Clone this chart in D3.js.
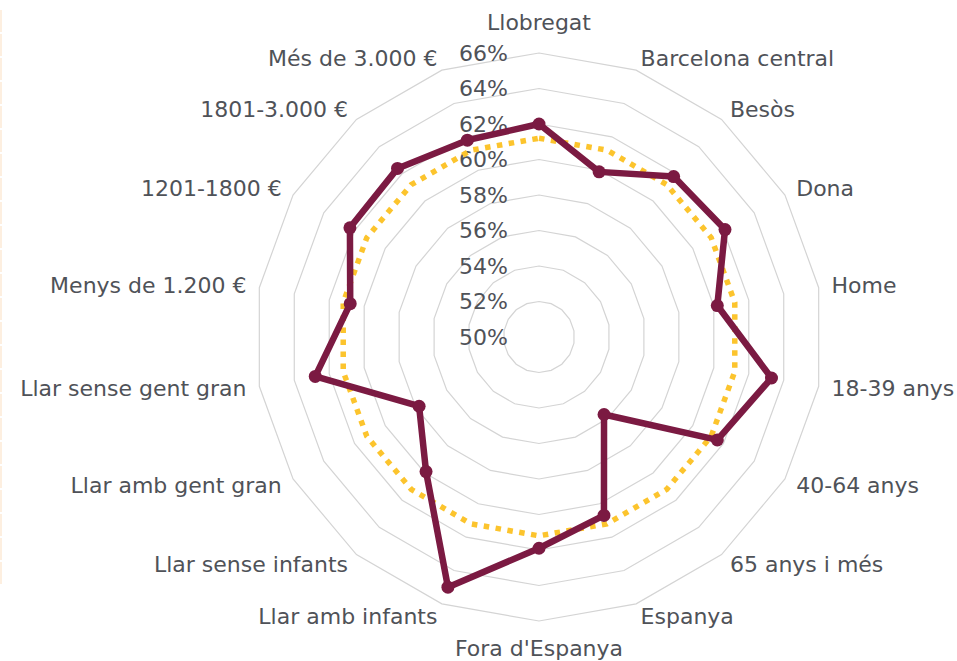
<!DOCTYPE html>
<html>
<head>
<meta charset="utf-8">
<script src="https://cdn.jsdelivr.net/npm/d3@7"></script>
<style>
  body { margin: 0; background: #fff; }
  text { font-family: "DejaVu Sans", sans-serif; fill: #4f5258; }
</style>
</head>
<body>
<div id="radar-chart"></div>
<script>
// categories (clockwise from the top)
const categories = ["Llobregat", "Barcelona central", "Besòs", "Dona", "Home",
  "18-39 anys", "40-64 anys", "65 anys i més", "Espanya", "Fora d'Espanya",
  "Llar amb infants", "Llar sense infants", "Llar amb gent gran", "Llar sense gent gran",
  "Menys de 1.200 €", "1201-1800 €", "1801-3.000 €", "Més de 3.000 €"]

// group values (%)
const values = [62.0, 59.9, 61.8, 62.1, 60.2, 63.3, 61.6, 55.7, 60.7, 61.9,
  65.0, 59.9, 57.8, 62.8, 60.8, 62.3, 62.4, 61.8]

// Barcelona total, same for every category
const total = [61.2, 61.2, 61.2, 61.2, 61.2, 61.2, 61.2, 61.2, 61.2, 61.2,
  61.2, 61.2, 61.2, 61.2, 61.2, 61.2, 61.2, 61.2]

const ticks = [50, 52, 54, 56, 58, 60, 62, 64, 66]

const width = 957
const height = 661
const cx = 539
const cy = 337

const svg = d3.select("#radar-chart")
  .append("svg")
  .attr("width", width)
  .attr("height", height)

// faint border on the left edge
svg.append("line")
  .attr("x1", 1).attr("x2", 1)
  .attr("y1", 10).attr("y2", 585)
  .attr("stroke", "#fdefe0")
  .attr("stroke-width", 2)
  .attr("stroke-dasharray", "22 2")

const g = svg.append("g")
  .attr("transform", `translate(${cx},${cy})`)

// scales
const r = d3.scaleLinear()
  .domain([50, 66])
  .range([0, 284])

const angle = d3.scaleLinear()
  .domain([0, categories.length])
  .range([0, 2 * Math.PI])

// grid rings (polygons)
const ring = d3.lineRadial()
  .angle((d, i) => angle(i))
  .radius(d => r(d))
  .curve(d3.curveLinearClosed)

g.selectAll(".ring")
  .data(ticks.slice(1))
  .join("path")
  .attr("class", "ring")
  .attr("d", t => ring(categories.map(() => t)))
  .attr("fill", "none")
  .attr("stroke", "#d4d4d4")
  .attr("stroke-width", 1.2)

// tick labels
g.selectAll(".tick-label")
  .data(ticks)
  .join("text")
  .attr("class", "tick-label")
  .attr("x", -31)
  .attr("y", t => -r(t))
  .attr("dy", "0.35em")
  .attr("text-anchor", "end")
  .style("font-size", "22px")
  .text(t => t + "%")

// total series (dotted)
const line = d3.lineRadial()
  .angle((d, i) => angle(i))
  .radius(d => r(d))
  .curve(d3.curveLinearClosed)

g.append("path")
  .attr("d", line(total))
  .attr("fill", "none")
  .attr("stroke", "#fcc42d")
  .attr("stroke-width", 5.5)
  .attr("stroke-dasharray", "5.5 6.5")

// group series
g.append("path")
  .attr("d", line(values))
  .attr("fill", "none")
  .attr("stroke", "#7b1a42")
  .attr("stroke-width", 6.5)
  .attr("stroke-linejoin", "round")

g.selectAll(".dot")
  .data(values)
  .join("circle")
  .attr("class", "dot")
  .attr("cx", (d, i) => r(d) * Math.sin(angle(i)))
  .attr("cy", (d, i) => -r(d) * Math.cos(angle(i)))
  .attr("r", 6.5)
  .attr("fill", "#7b1a42")

// category labels
const R = 297
g.selectAll(".cat-label")
  .data(categories)
  .join("text")
  .attr("class", "cat-label")
  .attr("x", (d, i) => R * Math.sin(angle(i)))
  .attr("y", (d, i) => {
    const c = Math.cos(angle(i)), s = Math.sin(angle(i))
    return -R * c + (Math.abs(s) < 0.01 ? (c > 0 ? -18 : 14) : 0)
  })
  .attr("dy", "0.35em")
  .attr("text-anchor", (d, i) => {
    const s = Math.sin(angle(i))
    return Math.abs(s) < 0.01 ? "middle" : (s > 0 ? "start" : "end")
  })
  .style("font-size", "22px")
  .text(d => d)
</script>
</body>
</html>
